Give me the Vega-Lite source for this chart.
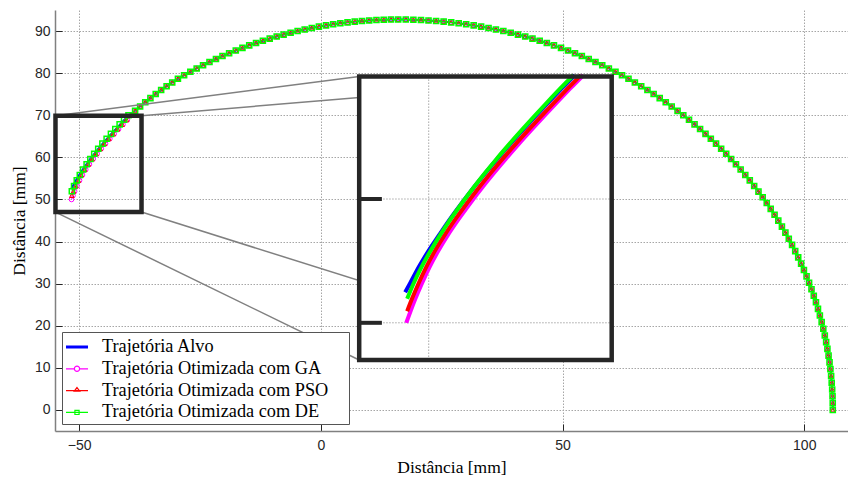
{
"$schema": "https://vega.github.io/schema/vega-lite/v6.json",
"width": 793, "height": 421,
"autosize": {"type": "none"},
"padding": {"left": 55, "top": 10, "right": 0, "bottom": 48},
"background": "white",
"config": {
  "view": {"stroke": null},
  "axis": {"labelFont": "Liberation Sans", "labelFontSize": 14, "labelColor": "#262626",
    "titleFont": "Liberation Serif", "titleFontSize": 17.5, "titleFontWeight": "normal", "titleColor": "#000000",
    "domainColor": "#808080", "domainWidth": 1.5, "tickColor": "#262626", "tickWidth": 1, "tickSize": -7,
    "gridColor": "#a6a6a6", "gridDash": [1.5, 1.5], "gridWidth": 1, "gridOpacity": 1}
},
"datasets": {
  "traj": [
    {"s":"sh","x":105.9,"y":0},{"s":"sh","x":105.89,"y":1.62},{"s":"sh","x":105.85,"y":3.24},{"s":"sh","x":105.78,"y":4.85},{"s":"sh","x":105.68,"y":6.47},{"s":"sh","x":105.56,"y":8.08},{"s":"sh","x":105.41,"y":9.7},{"s":"sh","x":105.23,"y":11.3},{"s":"sh","x":105.03,"y":12.91},{"s":"sh","x":104.79,"y":14.51},
    {"s":"sh","x":104.53,"y":16.11},{"s":"sh","x":104.25,"y":17.7},{"s":"sh","x":103.94,"y":19.28},{"s":"sh","x":103.6,"y":20.86},{"s":"sh","x":103.23,"y":22.44},{"s":"sh","x":102.84,"y":24.01},{"s":"sh","x":102.42,"y":25.57},{"s":"sh","x":101.97,"y":27.12},{"s":"sh","x":101.5,"y":28.66},{"s":"sh","x":101.0,"y":30.2},
    {"s":"sh","x":100.48,"y":31.72},{"s":"sh","x":99.93,"y":33.24},{"s":"sh","x":99.35,"y":34.75},{"s":"sh","x":98.75,"y":36.24},{"s":"sh","x":98.13,"y":37.73},{"s":"sh","x":97.48,"y":39.2},{"s":"sh","x":96.8,"y":40.66},{"s":"sh","x":96.1,"y":42.11},{"s":"sh","x":95.38,"y":43.54},{"s":"sh","x":94.63,"y":44.97},
    {"s":"sh","x":93.86,"y":46.38},{"s":"sh","x":93.06,"y":47.77},{"s":"sh","x":92.24,"y":49.15},{"s":"sh","x":91.4,"y":50.52},{"s":"sh","x":90.53,"y":51.87},{"s":"sh","x":89.64,"y":53.2},{"s":"sh","x":88.73,"y":54.52},{"s":"sh","x":87.8,"y":55.82},{"s":"sh","x":86.84,"y":57.1},{"s":"sh","x":85.87,"y":58.37},
    {"s":"sh","x":84.87,"y":59.62},{"s":"sh","x":83.85,"y":60.85},{"s":"sh","x":82.81,"y":62.06},{"s":"sh","x":81.75,"y":63.26},{"s":"sh","x":80.67,"y":64.43},{"s":"sh","x":79.57,"y":65.58},{"s":"sh","x":78.45,"y":66.72},{"s":"sh","x":77.31,"y":67.83},{"s":"sh","x":76.16,"y":68.93},{"s":"sh","x":74.98,"y":70.0},
    {"s":"sh","x":73.79,"y":71.05},{"s":"sh","x":72.58,"y":72.08},{"s":"sh","x":71.35,"y":73.09},{"s":"sh","x":70.1,"y":74.07},{"s":"sh","x":68.84,"y":75.04},{"s":"sh","x":67.56,"y":75.98},{"s":"sh","x":66.27,"y":76.89},{"s":"sh","x":64.96,"y":77.79},{"s":"sh","x":63.64,"y":78.66},{"s":"sh","x":62.3,"y":79.5},
    {"s":"sh","x":60.95,"y":80.32},{"s":"sh","x":59.58,"y":81.12},{"s":"sh","x":58.21,"y":81.89},{"s":"sh","x":56.81,"y":82.64},{"s":"sh","x":55.41,"y":83.36},{"s":"sh","x":53.99,"y":84.06},{"s":"sh","x":52.57,"y":84.73},{"s":"sh","x":51.13,"y":85.38},{"s":"sh","x":49.68,"y":86.0},{"s":"sh","x":48.22,"y":86.59},
    {"s":"sh","x":46.75,"y":87.16},{"s":"sh","x":45.27,"y":87.7},{"s":"sh","x":43.78,"y":88.21},{"s":"sh","x":42.28,"y":88.7},{"s":"sh","x":40.78,"y":89.16},{"s":"sh","x":39.27,"y":89.59},{"s":"sh","x":37.75,"y":90.0},{"s":"sh","x":36.22,"y":90.37},{"s":"sh","x":34.69,"y":90.72},{"s":"sh","x":33.15,"y":91.05},
    {"s":"sh","x":31.61,"y":91.34},{"s":"sh","x":30.06,"y":91.61},{"s":"sh","x":28.51,"y":91.85},{"s":"sh","x":26.96,"y":92.06},{"s":"sh","x":25.4,"y":92.24},{"s":"sh","x":23.84,"y":92.4},{"s":"sh","x":22.27,"y":92.52},{"s":"sh","x":20.71,"y":92.62},{"s":"sh","x":19.14,"y":92.69},{"s":"sh","x":17.57,"y":92.74},
    {"s":"sh","x":16.0,"y":92.75},{"s":"sh","x":14.5,"y":92.74},{"s":"sh","x":13.0,"y":92.69},{"s":"sh","x":11.5,"y":92.62},{"s":"sh","x":10.0,"y":92.52},{"s":"sh","x":8.5,"y":92.4},{"s":"sh","x":7.01,"y":92.24},{"s":"sh","x":5.52,"y":92.06},{"s":"sh","x":4.03,"y":91.85},{"s":"sh","x":2.55,"y":91.61},
    {"s":"sh","x":1.07,"y":91.34},{"s":"sh","x":-0.41,"y":91.05},{"s":"sh","x":-1.88,"y":90.72},{"s":"sh","x":-3.35,"y":90.37},{"s":"sh","x":-4.81,"y":90.0},{"s":"sh","x":-6.26,"y":89.59},{"s":"sh","x":-7.71,"y":89.16},{"s":"sh","x":-9.14,"y":88.7},{"s":"sh","x":-10.58,"y":88.21},{"s":"sh","x":-12.0,"y":87.7},
    {"s":"sh","x":-13.41,"y":87.16},{"s":"sh","x":-14.82,"y":86.59},{"s":"sh","x":-16.22,"y":86.0},{"s":"sh","x":-17.6,"y":85.38},{"s":"sh","x":-18.98,"y":84.73},{"s":"sh","x":-20.35,"y":84.06},{"s":"sh","x":-21.7,"y":83.36},{"s":"sh","x":-23.04,"y":82.64},{"s":"sh","x":-24.37,"y":81.89},{"s":"sh","x":-25.69,"y":81.12},
    {"s":"sh","x":-27.0,"y":80.32},{"s":"sh","x":-28.29,"y":79.5},{"s":"sh","x":-29.57,"y":78.66},{"s":"sh","x":-30.75,"y":77.79},{"s":"sh","x":-31.91,"y":76.89},{"s":"sh","x":-33.04,"y":75.98},{"s":"sh","x":-34.16,"y":75.04},{"s":"sh","x":-35.26,"y":74.07},{"s":"sh","x":-36.33,"y":73.09},{"s":"sh","x":-37.39,"y":72.08},
    {"s":"sh","x":-38.43,"y":71.05},
    {"s":"A","x":-39.7,"y":70.0},{"s":"A","x":-40.62,"y":68.93},{"s":"A","x":-41.54,"y":67.83},{"s":"A","x":-42.45,"y":66.72},{"s":"A","x":-43.36,"y":65.58},{"s":"A","x":-44.26,"y":64.43},{"s":"A","x":-45.15,"y":63.26},{"s":"A","x":-46.03,"y":62.06},{"s":"A","x":-46.88,"y":60.85},{"s":"A","x":-47.7,"y":59.62},{"s":"A","x":-48.5,"y":58.37},{"s":"A","x":-49.26,"y":57.1},{"s":"A","x":-50.01,"y":55.82},{"s":"A","x":-50.69,"y":54.52},{"s":"A","x":-51.31,"y":53.2},{"s":"A","x":-51.66,"y":52.47},
    {"s":"G","x":-39.1,"y":70.0},{"s":"G","x":-40.02,"y":68.93},{"s":"G","x":-40.94,"y":67.83},{"s":"G","x":-41.85,"y":66.72},{"s":"G","x":-42.76,"y":65.58},{"s":"G","x":-43.66,"y":64.43},{"s":"G","x":-44.55,"y":63.26},{"s":"G","x":-45.43,"y":62.06},{"s":"G","x":-46.28,"y":60.85},{"s":"G","x":-47.1,"y":59.62},{"s":"G","x":-47.89,"y":58.37},{"s":"G","x":-48.64,"y":57.1},{"s":"G","x":-49.32,"y":55.82},{"s":"G","x":-49.93,"y":54.52},{"s":"G","x":-50.47,"y":53.2},{"s":"G","x":-50.94,"y":51.94},{"s":"G","x":-51.28,"y":50.94},{"s":"G","x":-51.58,"y":50.0},
    {"s":"P","x":-39.27,"y":70.0},{"s":"P","x":-40.2,"y":68.93},{"s":"P","x":-41.13,"y":67.83},{"s":"P","x":-42.05,"y":66.72},{"s":"P","x":-42.97,"y":65.58},{"s":"P","x":-43.88,"y":64.43},{"s":"P","x":-44.78,"y":63.26},{"s":"P","x":-45.66,"y":62.06},{"s":"P","x":-46.51,"y":60.85},{"s":"P","x":-47.33,"y":59.62},{"s":"P","x":-48.12,"y":58.37},{"s":"P","x":-48.87,"y":57.1},{"s":"P","x":-49.56,"y":55.82},{"s":"P","x":-50.17,"y":54.52},{"s":"P","x":-50.71,"y":53.2},{"s":"P","x":-51.18,"y":51.94},{"s":"P","x":-51.52,"y":50.94},
    {"s":"D","x":-39.8,"y":70.0},{"s":"D","x":-40.72,"y":68.93},{"s":"D","x":-41.63,"y":67.83},{"s":"D","x":-42.53,"y":66.72},{"s":"D","x":-43.43,"y":65.58},{"s":"D","x":-44.32,"y":64.43},{"s":"D","x":-45.2,"y":63.26},{"s":"D","x":-46.06,"y":62.06},{"s":"D","x":-46.89,"y":60.85},{"s":"D","x":-47.69,"y":59.62},{"s":"D","x":-48.46,"y":58.37},{"s":"D","x":-49.19,"y":57.1},{"s":"D","x":-49.87,"y":55.82},{"s":"D","x":-50.5,"y":54.52},{"s":"D","x":-51.06,"y":53.2},{"s":"D","x":-51.52,"y":51.94}
  ],
  "box": [{"x": -54.9, "x2": -37.1, "y": 47.0, "y2": 69.9}],
  "links": [
    {"x": -54.9, "y": 69.9, "x2": 7.93, "y2": 79.2},
    {"x": -37.1, "y": 69.9, "x2": 60.16, "y2": 79.2},
    {"x": -54.9, "y": 47.0, "x2": 7.93, "y2": 11.86},
    {"x": -37.1, "y": 47.0, "x2": 60.16, "y2": 11.86}
  ],
  "igrid": [
    {"x": -50, "x2": -50, "y": 47.0, "y2": 69.9},
    {"x": -54.9, "x2": -37.1, "y": 60, "y2": 60},
    {"x": -54.9, "x2": -37.1, "y": 50, "y2": 50}
  ],
  "istubs": [
    {"x": -54.9, "x2": -53.3, "y": 60, "y2": 60},
    {"x": -54.9, "x2": -53.3, "y": 50, "y2": 50}
  ],
  "series": [
    {"name": "Trajetória Alvo"},
    {"name": "Trajetória Otimizada com GA"},
    {"name": "Trajetória Otimizada com PSO"},
    {"name": "Trajetória Otimizada com DE"}
  ]
},
"resolve": {"scale": {"x": "independent", "y": "independent"}},
"layer": [
  {
    "encoding": {
      "x": {"field": "x", "type": "quantitative", "scale": {"domain": [-55, 109.05], "nice": false, "zero": false},
        "axis": {"values": [-50, 0, 50, 100], "title": "Distância [mm]", "grid": true, "labelPadding": 14, "titlePadding": 6}},
      "y": {"field": "y", "type": "quantitative", "scale": {"domain": [-5, 95], "nice": false, "zero": false},
        "axis": {"values": [0, 10, 20, 30, 40, 50, 60, 70, 80, 90], "title": "Distância [mm]", "grid": true, "labelPadding": 12, "titlePadding": 6}}
    },
    "layer": [
      {"data": {"name": "traj"}, "transform": [{"filter": "datum.s == 'sh' || datum.s == 'A'"}],
       "mark": {"type": "line", "color": "#0000ff", "strokeWidth": 2}},
      {"data": {"name": "traj"}, "transform": [{"filter": "datum.s == 'sh' || datum.s == 'G'"}],
       "mark": {"type": "line", "color": "#ff00ff", "strokeWidth": 1,
         "point": {"shape": "circle", "filled": false, "size": 22, "strokeWidth": 1, "color": "#ff00ff"}}},
      {"data": {"name": "traj"}, "transform": [{"filter": "datum.s == 'sh' || datum.s == 'P'"}],
       "mark": {"type": "line", "color": "#ff0000", "strokeWidth": 1,
         "point": {"shape": "triangle-up", "filled": false, "size": 22, "strokeWidth": 1, "color": "#ff0000"}}},
      {"data": {"name": "traj"}, "transform": [{"filter": "datum.s == 'sh' || datum.s == 'D'"}],
       "mark": {"type": "line", "color": "#00ff00", "strokeWidth": 1,
         "point": {"shape": "square", "filled": false, "size": 26, "strokeWidth": 1.5, "color": "#00ff00"}}},
      {"data": {"name": "links"}, "mark": {"type": "rule", "color": "#808080", "strokeWidth": 1.5},
       "encoding": {"x2": {"field": "x2"}, "y2": {"field": "y2"}}},
      {"data": {"name": "box"}, "mark": {"type": "rect", "filled": false, "color": "#262626", "strokeWidth": 4.5},
       "encoding": {"x2": {"field": "x2"}, "y2": {"field": "y2"}}},
      {"data": {"name": "series"},
       "mark": {"type": "point", "filled": false, "opacity": 0, "size": 484, "strokeWidth": 1.2},
       "encoding": {
         "x": {"datum": 0, "type": "quantitative"},
         "y": {"datum": 0, "type": "quantitative"},
         "color": {"field": "name", "type": "nominal",
           "scale": {"domain": ["Trajetória Alvo", "Trajetória Otimizada com GA", "Trajetória Otimizada com PSO", "Trajetória Otimizada com DE"],
                     "range": ["#0000ff", "#ff00ff", "#ff0000", "#00ff00"]},
           "legend": {"title": null, "orient": "bottom-left", "offset": 7, "padding": 3,
             "fillColor": "#ffffff", "strokeColor": "#555555",
             "labelFont": "Liberation Serif", "labelFontSize": 18.3, "labelColor": "#000000", "labelLimit": 400,
             "labelOffset": 13, "symbolSize": 484, "rowPadding": 0.8, "symbolOpacity": 1, "symbolStrokeWidth": 1.2,
             "labelExpr": "datum.label + '\u00a0\u2800'"}},
         "shape": {"field": "name", "type": "nominal",
           "scale": {"domain": ["Trajetória Alvo", "Trajetória Otimizada com GA", "Trajetória Otimizada com PSO", "Trajetória Otimizada com DE"],
                     "range": ["M-1,-0.08H1M-1,-0.03H1M-1,0.03H1M-1,0.08H1",
                               "M-1,0H-0.24M0.24,0H1M-0.24,0A0.24,0.24 0 1,1 0.24,0A0.24,0.24 0 1,1 -0.24,0",
                               "M-1,0H1M0,-0.28L0.25,0.05H-0.25Z",
                               "M-1,0H1M-0.19,-0.19H0.19V0.19H-0.19Z"]},
           "legend": {"title": null}}
       }}
    ]
  },
  {
    "encoding": {
      "x": {"field": "x", "type": "quantitative", "scale": {"domain": [-76.345, -20.441], "nice": false, "zero": false}, "axis": null},
      "y": {"field": "y", "type": "quantitative", "scale": {"domain": [41.26, 75.27], "nice": false, "zero": false}, "axis": null}
    },
    "layer": [
      {"data": {"name": "box"}, "mark": {"type": "rect", "color": "#ffffff", "opacity": 1},
       "encoding": {"x2": {"field": "x2"}, "y2": {"field": "y2"}}},
      {"data": {"name": "igrid"}, "mark": {"type": "rule", "color": "#a6a6a6", "strokeWidth": 1, "strokeDash": [1.5, 1.5]},
       "encoding": {"x2": {"field": "x2"}, "y2": {"field": "y2"}}},
      {"data": {"name": "istubs"}, "mark": {"type": "rule", "color": "#262626", "strokeWidth": 4},
       "encoding": {"x2": {"field": "x2"}, "y2": {"field": "y2"}}},
      {"data": {"name": "traj"}, "transform": [{"filter": "datum.s == 'A'"}],
       "mark": {"type": "line", "color": "#0000ff", "strokeWidth": 4, "interpolate": "monotone"}},
      {"data": {"name": "traj"}, "transform": [{"filter": "datum.s == 'G'"}],
       "mark": {"type": "line", "color": "#ff00ff", "strokeWidth": 4, "interpolate": "monotone"}},
      {"data": {"name": "traj"}, "transform": [{"filter": "datum.s == 'P'"}],
       "mark": {"type": "line", "color": "#ff0000", "strokeWidth": 4, "interpolate": "monotone"}},
      {"data": {"name": "traj"}, "transform": [{"filter": "datum.s == 'D'"}],
       "mark": {"type": "line", "color": "#00ff00", "strokeWidth": 4, "interpolate": "monotone"}},
      {"data": {"name": "box"}, "mark": {"type": "rect", "filled": false, "color": "#262626", "strokeWidth": 4.5},
       "encoding": {"x2": {"field": "x2"}, "y2": {"field": "y2"}}}
    ]
  }
]
}
